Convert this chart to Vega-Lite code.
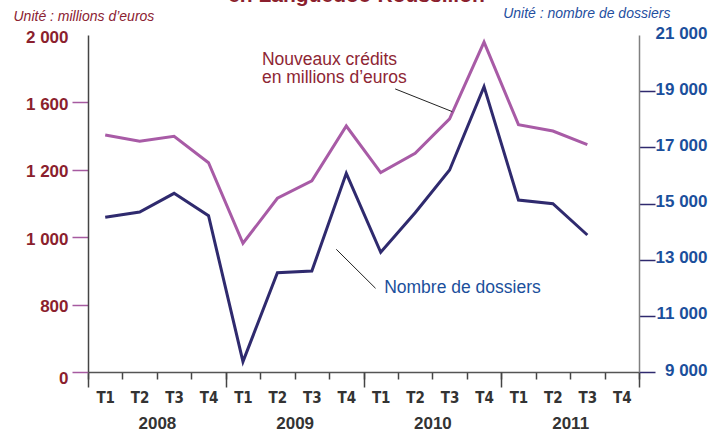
{
  "$schema": "https://vega.github.io/schema/vega-lite/v6.json",
  "width": 551,
  "height": 337,
  "autosize": "none",
  "padding": {"left": 88, "top": 35, "right": 85, "bottom": 66},
  "background": "white",
  "title": {
    "text": "en Languedoc-Roussillon",
    "anchor": "middle",
    "frame": "group",
    "font": "Liberation Sans",
    "fontSize": 21,
    "fontWeight": "bold",
    "color": "#8B1F2E",
    "dx": -7,
    "offset": 0
  },
  "config": {
    "view": {"stroke": null},
    "axis": {"grid": false},
    "font": "Liberation Sans"
  },
  "datasets": {
    "quarters": [
      {"idx": 1, "year": "2008", "quarter": "T1", "credits": 1407, "dossiers": 14509},
      {"idx": 2, "year": "2008", "quarter": "T2", "credits": 1369, "dossiers": 14697},
      {"idx": 3, "year": "2008", "quarter": "T3", "credits": 1399, "dossiers": 15362},
      {"idx": 4, "year": "2008", "quarter": "T4", "credits": 1242, "dossiers": 14567},
      {"idx": 5, "year": "2009", "quarter": "T1", "credits": 764, "dossiers": 9368},
      {"idx": 6, "year": "2009", "quarter": "T2", "credits": 1031, "dossiers": 12537},
      {"idx": 7, "year": "2009", "quarter": "T3", "credits": 1134, "dossiers": 12596},
      {"idx": 8, "year": "2009", "quarter": "T4", "credits": 1460, "dossiers": 16075},
      {"idx": 9, "year": "2010", "quarter": "T1", "credits": 1183, "dossiers": 13261},
      {"idx": 10, "year": "2010", "quarter": "T2", "credits": 1298, "dossiers": 14673},
      {"idx": 11, "year": "2010", "quarter": "T3", "credits": 1502, "dossiers": 16193},
      {"idx": 12, "year": "2010", "quarter": "T4", "credits": 1958, "dossiers": 19160},
      {"idx": 13, "year": "2011", "quarter": "T1", "credits": 1468, "dossiers": 15125},
      {"idx": 14, "year": "2011", "quarter": "T2", "credits": 1430, "dossiers": 14994},
      {"idx": 15, "year": "2011", "quarter": "T3", "credits": 1349, "dossiers": 13878}
    ]
  },
  "data": {"name": "quarters"},
  "layer": [
    {
      "mark": {"type": "line", "color": "#A85BA6", "strokeWidth": 3, "strokeJoin": "miter"},
      "encoding": {
        "x": {
          "field": "idx",
          "type": "quantitative",
          "scale": {"domain": [0.5, 16.5], "nice": false, "zero": false},
          "axis": {
            "orient": "bottom",
            "title": null,
            "values": [0.5, 1.5, 2.5, 3.5, 4.5, 5.5, 6.5, 7.5, 8.5, 9.5, 10.5, 11.5, 12.5, 13.5, 14.5, 15.5, 16.5],
            "labelExpr": "datum.value < 16 ? 'T' + ((datum.value - 0.5) % 4 + 1) : ''",
            "labelOffset": 17.2,
            "labelPadding": 11,
            "labelFont": "Liberation Sans Narrow, DejaVu Sans Condensed, Liberation Sans",
            "labelFontSize": 15,
            "labelFontWeight": "bold",
            "labelColor": "#333333",
            "labelAngle": 0,
            "labelFlush": false,
            "labelOverlap": false,
            "labelBound": false,
            "labelSeparation": 0,
            "tickSize": 7,
            "tickWidth": 1.5,
            "tickColor": "#444444",
            "domainColor": "#555555",
            "domainWidth": 1.5
          }
        },
        "y": {
          "field": "credits",
          "type": "quantitative",
          "scale": {"domain": [0, 2000], "nice": false},
          "axis": {
            "orient": "left",
            "title": "Unité : millions d’euros",
            "titleAngle": 0,
            "titleAlign": "left",
            "titleBaseline": "alphabetic",
            "titleX": -75,
            "titleY": -15,
            "titleFont": "Liberation Sans",
            "titleFontSize": 14,
            "titleFontStyle": "italic",
            "titleFontWeight": "normal",
            "titleColor": "#8B2232",
            "values": [0, 400, 800, 1200, 1600, 2000],
            "labelExpr": "datum.value == 400 ? '800' : datum.value == 800 ? '1 000' : replace(format(datum.value, ','), ',', ' ')",
            "labelFontSize": 17,
            "labelFontWeight": "bold",
            "labelColor": "#8B1F2E",
            "labelPadding": 4,
            "labelOffset": {"condition": {"test": "datum.value == 0", "value": 6}, "value": 2},
            "tickSize": 16,
            "tickWidth": 1.5,
            "tickColor": "#A65AA0",
            "tickOpacity": {"condition": {"test": "datum.value == 2000", "value": 0}, "value": 1},
            "domainColor": "#444444",
            "domainWidth": 1.5
          }
        }
      }
    },
    {
      "mark": {"type": "line", "color": "#2F2A6E", "strokeWidth": 3, "strokeJoin": "miter"},
      "encoding": {
        "x": {
          "field": "idx",
          "type": "quantitative",
          "axis": {
            "orient": "bottom",
            "title": null,
            "values": [0.5, 4.5, 8.5, 12.5, 16.5],
            "labelExpr": "datum.value < 16 ? '' + (2008 + (datum.value - 0.5) / 4) : ''",
            "labelOffset": 68.9,
            "labelPadding": 28,
            "labelFontSize": 17,
            "labelFontWeight": "bold",
            "labelColor": "#333333",
            "labelAngle": 0,
            "labelFlush": false,
            "labelOverlap": false,
            "tickSize": 15,
            "tickWidth": 1.5,
            "tickColor": "#444444",
            "domain": false
          }
        },
        "y": {
          "field": "dossiers",
          "type": "quantitative",
          "scale": {"domain": [9000, 21000], "nice": false, "zero": false},
          "axis": {
            "orient": "right",
            "title": "Unité : nombre de dossiers",
            "titleAngle": 0,
            "titleAlign": "right",
            "titleBaseline": "alphabetic",
            "titleX": 31,
            "titleY": -18,
            "titleFont": "Liberation Sans",
            "titleFontSize": 14,
            "titleFontStyle": "italic",
            "titleFontWeight": "normal",
            "titleColor": "#1F4FA0",
            "values": [9000, 11000, 13000, 15000, 17000, 19000, 21000],
            "labelExpr": "replace(format(datum.value, ','), ',', ' ')",
            "labelAlign": "right",
            "labelPadding": 52,
            "labelOffset": -2,
            "labelFontSize": 17,
            "labelFontWeight": "bold",
            "labelColor": "#1B4F9C",
            "tickSize": 16,
            "tickWidth": 1.5,
            "tickColor": "#2F2A6E",
            "tickOpacity": {"condition": {"test": "datum.value == 21000", "value": 0}, "value": 1},
            "domainColor": "#808080",
            "domainWidth": 1.5
          }
        }
      }
    },
    {
      "data": {"values": [{}]},
      "mark": {
        "type": "text",
        "text": ["Nouveaux crédits", "en millions d’euros"],
        "align": "left",
        "baseline": "alphabetic",
        "fontSize": 17.5,
        "lineHeight": 18.5,
        "color": "#8E2634"
      },
      "encoding": {
        "x": {"datum": 5.55, "type": "quantitative", "axis": null},
        "y": {"datum": 1822, "type": "quantitative", "scale": {"domain": [0, 2000], "nice": false}, "axis": null}
      }
    },
    {
      "data": {"values": [{}]},
      "mark": {"type": "rule", "color": "#222222", "strokeWidth": 1},
      "encoding": {
        "x": {"datum": 9.42, "type": "quantitative", "axis": null},
        "y": {"datum": 1680, "type": "quantitative", "scale": {"domain": [0, 2000], "nice": false}, "axis": null},
        "x2": {"datum": 11.08},
        "y2": {"datum": 1545}
      }
    },
    {
      "data": {"values": [{}]},
      "mark": {"type": "rule", "color": "#222222", "strokeWidth": 1},
      "encoding": {
        "x": {"datum": 7.71, "type": "quantitative", "axis": null},
        "y": {"datum": 13369, "type": "quantitative", "scale": {"domain": [9000, 21000], "nice": false, "zero": false}, "axis": null},
        "x2": {"datum": 8.85},
        "y2": {"datum": 11980}
      }
    },
    {
      "data": {"values": [{}]},
      "mark": {
        "type": "text",
        "text": "Nombre de dossiers",
        "align": "left",
        "baseline": "alphabetic",
        "fontSize": 17.5,
        "color": "#1B4F9C"
      },
      "encoding": {
        "x": {"datum": 9.1, "type": "quantitative", "axis": null},
        "y": {"datum": 11802, "type": "quantitative", "scale": {"domain": [9000, 21000], "nice": false, "zero": false}, "axis": null}
      }
    }
  ],
  "resolve": {
    "scale": {"y": "independent"},
    "axis": {"x": "independent", "y": "independent"}
  }
}
